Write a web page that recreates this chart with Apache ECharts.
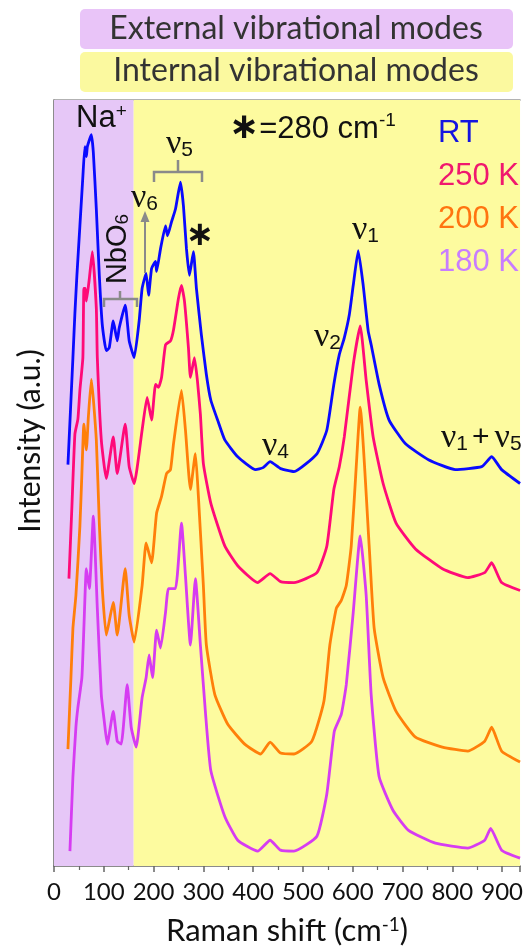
<!DOCTYPE html>
<html>
<head>
<meta charset="utf-8">
<script src="https://cdn.jsdelivr.net/npm/echarts@6/dist/echarts.min.js"></script>
<style>
  html, body { margin: 0; padding: 0; background: #fff; }
  #chart { width: 526px; height: 951px; }
</style>
</head>
<body>
<div id="chart"></div>
<script>
// Raman shift (cm-1) and intensity (a.u., stacked with offsets)
const shiftRT = [28, 38, 42, 46, 52, 58, 62, 65, 67, 75, 79, 85, 91, 97, 105, 111, 119, 127, 131, 143, 151, 161, 171, 177, 185, 190, 196, 204, 206, 214, 224, 228, 236, 244, 254, 260, 266, 272, 280, 286, 296, 306, 315, 330, 343, 369, 405, 420, 434, 455, 482, 528, 548, 562, 573, 583, 593, 601, 611, 621, 631, 637, 653, 673, 706, 752, 806, 859, 879, 899, 936];
const intRT = [405, 513, 558, 596, 646, 696, 726, 716, 726, 738, 720, 663, 596, 546, 520, 523, 550, 530, 543, 566, 530, 513, 550, 583, 598, 576, 603, 610, 600, 623, 646, 636, 650, 663, 690, 666, 623, 596, 620, 583, 536, 496, 470, 448, 430, 413, 400, 402, 408, 401, 398, 416, 440, 486, 516, 533, 556, 586, 621, 586, 540, 526, 486, 450, 426, 410, 400, 403, 413, 400, 386];

const shift250 = [30, 36, 42, 48, 52, 58, 60, 63, 65, 71, 77, 85, 87, 95, 105, 119, 127, 143, 151, 161, 177, 187, 196, 204, 210, 216, 224, 234, 240, 250, 256, 262, 270, 274, 282, 288, 294, 300, 315, 343, 369, 409, 434, 455, 482, 528, 548, 562, 573, 583, 601, 615, 627, 641, 661, 687, 726, 780, 831, 865, 879, 899, 936];
const int250 = [290, 363, 436, 451, 480, 513, 583, 583, 570, 593, 620, 563, 513, 430, 391, 433, 396, 446, 403, 386, 440, 473, 450, 486, 483, 493, 526, 530, 541, 573, 586, 570, 523, 493, 513, 490, 456, 406, 366, 323, 303, 286, 295, 287, 286, 296, 323, 380, 403, 433, 506, 545, 490, 433, 386, 346, 320, 300, 291, 296, 306, 286, 278];

const shift200 = [28, 34, 38, 44, 52, 56, 60, 65, 69, 75, 85, 91, 97, 105, 119, 127, 143, 151, 161, 177, 185, 196, 206, 216, 226, 234, 240, 256, 264, 274, 284, 290, 300, 306, 323, 349, 383, 415, 434, 455, 482, 518, 542, 554, 567, 577, 587, 597, 607, 615, 633, 643, 661, 687, 726, 780, 831, 865, 879, 899, 936];
const int200 = [118, 190, 240, 273, 343, 396, 446, 420, 453, 491, 430, 346, 280, 233, 266, 233, 300, 253, 226, 283, 326, 306, 356, 373, 396, 400, 426, 480, 440, 380, 416, 373, 283, 223, 173, 143, 123, 113, 125, 114, 113, 126, 166, 223, 260, 268, 283, 323, 403, 463, 323, 240, 190, 156, 130, 120, 116, 126, 140, 116, 105];

const shift180 = [32, 38, 44, 48, 56, 60, 65, 71, 79, 87, 95, 101, 107, 119, 127, 135, 147, 155, 165, 177, 185, 191, 198, 206, 214, 224, 230, 244, 256, 264, 274, 284, 294, 304, 315, 343, 369, 409, 434, 455, 482, 528, 548, 563, 577, 587, 601, 615, 627, 637, 653, 681, 712, 766, 831, 865, 877, 899, 936];
const int180 = [15, 90, 140, 160, 190, 240, 300, 280, 353, 260, 173, 146, 123, 156, 126, 123, 183, 140, 120, 170, 190, 213, 190, 238, 220, 256, 280, 280, 346, 293, 223, 290, 223, 156, 96, 50, 26, 15, 26, 16, 15, 30, 73, 136, 153, 183, 256, 333, 273, 173, 90, 56, 36, 23, 18, 26, 38, 16, 8];

const seriesNames = ['RT', '250 K', '200 K', '180 K'];
const xTicks = [0, 100, 200, 300, 400, 500, 600, 700, 800, 900];
const externalRange = [0, 160];
const xMax = 936;

const lineColors = ['#0a0aff', '#ff0a78', '#ff7f0a', '#d63cf2'];
const labelColors = ['#1414e0', '#f0186e', '#ff7410', '#c87dff'];

const zip = (xs, ys) => xs.map((x, i) => [x, ys[i]]);
const spectra = [zip(shiftRT, intRT), zip(shift250, int250), zip(shift200, int200), zip(shift180, int180)];

const chart = echarts.init(document.getElementById('chart'));

const gray = '#8a8a8a';
const nu = (x, y, text) => ({
  type: 'text',
  z: 10,
  style: {
    x, y, text, verticalAlign: 'middle', align: 'left',
    rich: {
      n: { fontFamily: 'Liberation Serif', fontSize: 34, fill: '#111' },
      s: { fontFamily: 'Liberation Sans', fontSize: 21, fill: '#111', verticalAlign: 'bottom' },
      p: { fontFamily: 'Liberation Sans', fontSize: 30, fill: '#111', padding: [0, 5, 0, 4] }
    }
  }
});

const option = {
  animation: false,
  backgroundColor: '#fff',
  grid: { left: 54, right: 0, top: 100, bottom: 78 },
  legend: {
    orient: 'vertical',
    left: 428,
    top: 113,
    icon: 'none',
    itemWidth: 0,
    itemHeight: 0,
    itemGap: 12,
    selectedMode: false,
    textStyle: { fontFamily: 'Liberation Sans', fontSize: 31 },
    data: seriesNames.map((n, i) => ({ name: n, textStyle: { color: labelColors[i] } }))
  },
  xAxis: [
    {
      type: 'value',
      min: 0,
      max: xMax,
      interval: 100,
      axisLine: { lineStyle: { color: '#666', width: 1.5 } },
      axisTick: { length: 6, lineStyle: { color: '#666', width: 1.5 } },
      minorTick: { show: true, splitNumber: 2, length: 4, lineStyle: { color: '#666', width: 1.2 } },
      splitLine: { show: false },
      axisLabel: {
        fontFamily: 'Lato', fontSize: 24, color: '#111', margin: 14,
        formatter: v => (xTicks.includes(v) ? String(v) : '')
      },
      name: '{a|Raman shift (cm}{b|-1}{a|)}',
      nameLocation: 'middle',
      nameGap: 49,
      nameTextStyle: {
        rich: {
          a: { fontFamily: 'Lato', fontSize: 31, color: '#111' },
          b: { fontFamily: 'Lato', fontSize: 19, color: '#111', verticalAlign: 'top' }
        }
      }
    },
    {
      type: 'value',
      position: 'top',
      min: 0,
      max: xMax,
      axisLine: { lineStyle: { color: '#999', width: 1.5 } },
      axisTick: { show: false },
      axisLabel: { show: false },
      splitLine: { show: false }
    }
  ],
  yAxis: {
    type: 'value',
    min: 0,
    max: 773,
    axisLine: { show: true, lineStyle: { color: '#666', width: 1.5 } },
    axisTick: { show: false },
    axisLabel: { show: false },
    splitLine: { show: false }
  },
  series: [
    {
      type: 'line',
      name: 'bands',
      data: [],
      z: 1,
      silent: true,
      markArea: {
        silent: true,
        data: [
          [{ xAxis: externalRange[0], itemStyle: { color: '#e6c7f7' } }, { xAxis: externalRange[1] }],
          [{ xAxis: externalRange[1], itemStyle: { color: '#fdfb9f' } }, { xAxis: xMax }]
        ]
      }
    },
    ...seriesNames.map((n, i) => ({
      type: 'line',
      name: n,
      data: spectra[i],
      z: 5 - i,
      smooth: 0.15,
      showSymbol: false,
      lineStyle: { color: lineColors[i], width: 2.8 },
      itemStyle: { color: labelColors[i] }
    }))
  ],
  graphic: [
    {
      type: 'rect', shape: { x: 80, y: 9, width: 433, height: 40, r: 5 },
      style: { fill: '#e9c4f8' }
    },
    {
      type: 'text',
      style: { x: 296, y: 29, text: 'External vibrational modes', align: 'center', verticalAlign: 'middle', fontFamily: 'Lato', fontSize: 32, fill: '#333' }
    },
    {
      type: 'rect', shape: { x: 80, y: 52, width: 433, height: 40, r: 5 },
      style: { fill: '#fbf99f' }
    },
    {
      type: 'text',
      style: { x: 296, y: 71, text: 'Internal vibrational modes', align: 'center', verticalAlign: 'middle', fontFamily: 'Lato', fontSize: 32, fill: '#333' }
    },
    {
      type: 'text', x: 30, y: 441, rotation: Math.PI / 2,
      style: { text: 'Intensity (a.u.)', align: 'center', verticalAlign: 'middle', fontFamily: 'Lato', fontSize: 30, fill: '#111' }
    },
    {
      type: 'text', z: 10,
      style: {
        x: 76, y: 118, text: '{a|Na}{b|+}', verticalAlign: 'middle',
        rich: {
          a: { fontFamily: 'Liberation Sans', fontSize: 31, fill: '#111' },
          b: { fontFamily: 'Liberation Sans', fontSize: 19, fill: '#111', verticalAlign: 'top' }
        }
      }
    },
    {
      type: 'text', z: 10,
      style: {
        x: 229, y: 129, text: '{s|∗}{a|=280 cm}{b|-1}', verticalAlign: 'middle',
        rich: {
          s: { fontFamily: 'DejaVu Sans', fontWeight: 'bold', fontSize: 36, fill: '#111' },
          a: { fontFamily: 'Liberation Sans', fontSize: 31, fill: '#111' },
          b: { fontFamily: 'Liberation Sans', fontSize: 19, fill: '#111', verticalAlign: 'top' }
        }
      }
    },
    {
      type: 'text', z: 10,
      style: { x: 200, y: 236, text: '∗', align: 'center', verticalAlign: 'middle', fontFamily: 'DejaVu Sans', fontWeight: 'bold', fontSize: 34, fill: '#111' }
    },
    {
      type: 'text', z: 10, x: 118, y: 249, rotation: Math.PI / 2,
      style: {
        text: '{a|NbO}{b|6}', align: 'center', verticalAlign: 'middle',
        rich: {
          a: { fontFamily: 'Liberation Sans', fontSize: 29, fill: '#111' },
          b: { fontFamily: 'Liberation Sans', fontSize: 19, fill: '#111', verticalAlign: 'bottom' }
        }
      }
    },
    nu(166, 144, '{n|ν}{s|5}'),
    nu(131, 198, '{n|ν}{s|6}'),
    nu(352, 230, '{n|ν}{s|1}'),
    nu(314, 337, '{n|ν}{s|2}'),
    nu(262, 446, '{n|ν}{s|4}'),
    nu(441, 438, '{n|ν}{s|1}{p|+}{n|ν}{s|5}'),
    {
      type: 'polyline', z: 9,
      shape: { points: [[154, 182], [154, 172], [202, 172], [202, 182]] },
      style: { stroke: gray, lineWidth: 2.5, fill: null }
    },
    {
      type: 'line', z: 9,
      shape: { x1: 178, y1: 172, x2: 178, y2: 160 },
      style: { stroke: gray, lineWidth: 2.5 }
    },
    {
      type: 'polyline', z: 9,
      shape: { points: [[104, 307], [104, 299], [137, 299], [137, 307]] },
      style: { stroke: gray, lineWidth: 2.5, fill: null }
    },
    {
      type: 'line', z: 9,
      shape: { x1: 120, y1: 299, x2: 120, y2: 291 },
      style: { stroke: gray, lineWidth: 2.5 }
    },
    {
      type: 'line', z: 9,
      shape: { x1: 145, y1: 273, x2: 145, y2: 219 },
      style: { stroke: gray, lineWidth: 2 }
    },
    {
      type: 'polygon', z: 9,
      shape: { points: [[145, 211], [140.5, 222], [149.5, 222]] },
      style: { fill: gray }
    }
  ]
};

chart.setOption(option);
</script>
</body>
</html>
